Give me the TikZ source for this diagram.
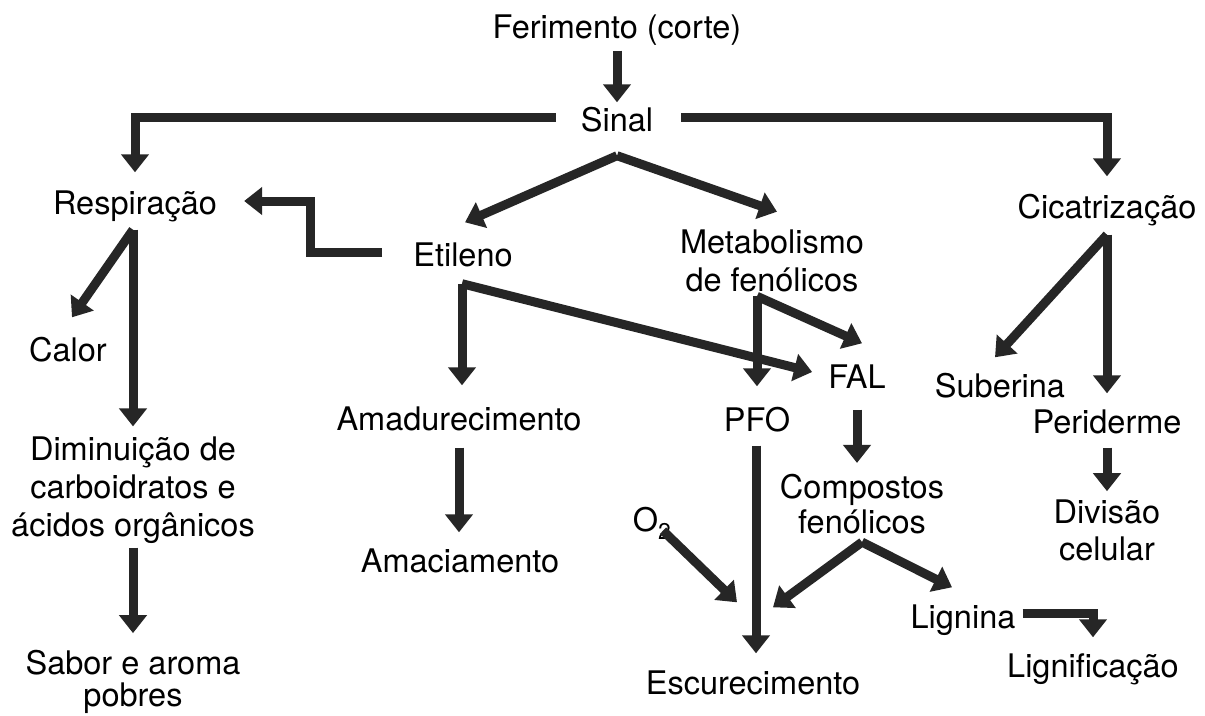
\documentclass[tikz,border=0pt]{standalone}
\usepackage{fontspec}
\setmainfont{TeX Gyre Heros}
\usetikzlibrary{arrows.meta}

\tikzset{
  texto/.style={align=center,inner sep=0pt,font=\fontsize{32.5}{38}\selectfont},
  rotulo/.style={texto,text height=24pt,text depth=7pt},
  seta/.style={draw=black!85,line width=9pt,-{Triangle[width=27pt,length=18pt]}}
}

\begin{document}
\begin{tikzpicture}[x=1pt,y=-1pt]
    \useasboundingbox[fill=white] (0,0) rectangle (1205,715);
    \node[rotulo] (ferimento) at (617,30) {Ferimento (corte)};
    \node[rotulo] (sinal) at (617,123) {Sinal};
    \node[rotulo] (resp) at (135,206) {Respiração};
    \node[rotulo] (etileno) at (463,258) {Etileno};
    \node[texto] (metab) at (772,261) {Metabolismo\\de fenólicos};
    \node[rotulo] (cicat) at (1107,210) {Cicatrização};
    \node[rotulo] (calor) at (68,353) {Calor};
    \node[rotulo] (amad) at (459,422) {Amadurecimento};
    \node[rotulo] (pfo) at (757,423) {PFO};
    \node[rotulo] (fal) at (857,380) {FAL};
    \node[rotulo] (suberina) at (1000,389) {Suberina};
    \node[rotulo] (periderme) at (1107,425) {Periderme};
    \node[texto] (diminuicao) at (133,490) {Diminuição de\\carboidratos e\\ácidos orgânicos};
    \node[rotulo] (amaciamento) at (460,564) {Amaciamento};
    \node[rotulo] (otwo) at (652,523) {O\textsubscript{2}};
    \node[texto] (compostos) at (862,504) {Compostos\\[-3pt]fenólicos};
    \node[texto] (divisao) at (1107,530) {Divisão\\[-1pt]celular};
    \node[rotulo] (escurec) at (753,686) {Escurecimento};
    \node[rotulo] (lignina) at (963,620) {Lignina};
    \node[rotulo] (lignif) at (1093,669) {Lignificação};
    \node[texto] (sabor) at (133,682) {Sabor e aroma\\[-6pt]pobres};

    \coordinate (forkSinal) at ([yshift=-17pt]sinal.south);
    \coordinate (forkResp) at ([shift={(-2pt,-8pt)}]resp.south);
    \coordinate (forkEtil) at ([shift={(-1pt,-10pt)}]etileno.south);
    \coordinate (forkMetab) at ([shift={(-15pt,-4pt)}]metab.south);
    \coordinate (forkComp) at ([yshift=-8pt]compostos.south);
    \coordinate (forkCicat) at ([yshift=-9pt]cicat.south);

    \draw[seta] ([yshift=-5pt]ferimento.south) -- ([yshift=5pt]sinal.north);
    \draw[seta] ([shift={(-25pt,6pt)}]sinal.west) -| ([yshift=18pt]resp.north);
    \draw[seta] ([shift={(28pt,6pt)}]sinal.east) -| ([yshift=18pt]cicat.north);
    \draw[seta] (forkSinal) -- ([shift={(2pt,20pt)}]etileno.north);
    \draw[seta] (forkSinal) -- ([shift={(5pt,18pt)}]metab.north);
    \draw[seta] ([shift={(-31pt,6pt)}]etileno.west) -- ++(-72,0)
        |- ([shift={(27pt,5pt)}]resp.east);
    \draw[seta] (forkEtil) -- ([yshift=21pt]forkEtil |- amad.north);
    \draw[seta] (forkEtil) -- ([shift={(-16pt,8pt)}]fal.west);
    \draw[seta] (forkMetab) -- ([yshift=21pt]forkMetab |- pfo.north);
    \draw[seta] (forkMetab) -- ([shift={(5pt,21pt)}]fal.north);
    \draw[seta] (forkResp) -- ([shift={(4pt,20pt)}]calor.north);
    \draw[seta] (forkResp) -- ([yshift=10pt]forkResp |- diminuicao.north);
    \draw[seta] ([yshift=-4pt]diminuicao.south) -- ([yshift=17pt]diminuicao.south |- sabor.north);
    \draw[seta] ([yshift=-10pt]amad.south) -- ([yshift=16pt]amad.south |- amaciamento.north);
    \draw[seta] ([shift={(-1pt,-7pt)}]pfo.south) -- ([shift={(-1pt,17pt)}]pfo.south |- escurec.north);
    \draw[seta] ([shift={(11pt,8pt)}]otwo.south) -- ([shift={(-16pt,68pt)}]escurec.north);
    \draw[seta] (forkComp) -- ([shift={(20pt,63pt)}]escurec.north);
    \draw[seta] (forkComp) -- ([shift={(-11pt,17pt)}]lignina.north);
    \draw[seta] ([yshift=-14pt]fal.south) -- ([yshift=11pt]fal.south |- compostos.north);
    \draw[seta] (forkCicat) -- ([shift={(-5pt,16pt)}]suberina.north);
    \draw[seta] (forkCicat) -- ([yshift=16pt]forkCicat |- periderme.north);
    \draw[seta] ([yshift=-7pt]periderme.south) -- ([yshift=8pt]periderme.south |- divisao.north);
    \draw[seta] ([shift={(7pt,7pt)}]lignina.east) -| ([yshift=16pt]lignif.north);
\end{tikzpicture}
\end{document}
